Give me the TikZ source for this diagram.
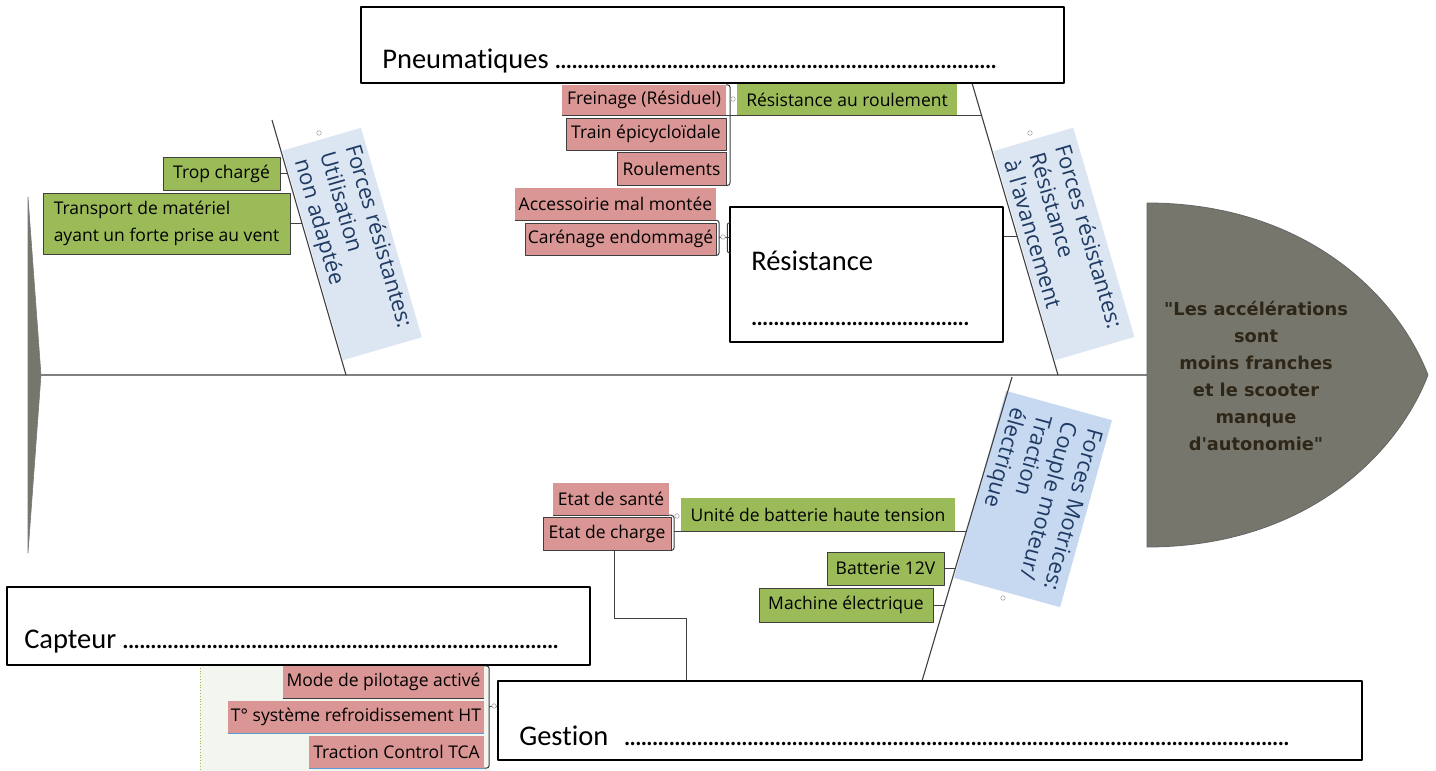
\documentclass[tikz,border=0pt]{standalone}
\usepackage{fontspec}
\setmainfont{Open Sans}[Ligatures=TeXOff]
\newfontfamily\boxfont{Carlito}[Ligatures={TeXOff,NoCommon}]
\newfontfamily\headfont{DejaVu Sans}[Ligatures=TeXOff]
\usetikzlibrary{calc}
\definecolor{leaf}{HTML}{9BBB59}
\definecolor{rose}{HTML}{D99694}
\definecolor{skyA}{HTML}{DCE6F2}
\definecolor{skyB}{HTML}{C6D9F1}
\definecolor{navy}{HTML}{1F3B63}
\definecolor{stone}{HTML}{76766D}
\definecolor{headink}{HTML}{2E2616}
\definecolor{twiggray}{HTML}{3F3F3F}
\definecolor{spinegray}{HTML}{808080}
\definecolor{paleleaf}{HTML}{F3F6EE}
\definecolor{linkblue}{HTML}{5B9BD5}
\newcommand\dotrun[1]{\hbox to #1{\leaders\hbox to 5.6pt{\hss.\hss}\hfill}}
\tikzset{
  fishbone/.style={
    x=1pt, y=-1pt,
    font=\fontsize{17.5}{27}\selectfont,
    line join=round
  },
  spine/.style={draw=spinegray, line width=2pt},
  bone/.style={draw=twiggray, line width=1.1pt},
  twig/.style={draw=twiggray, line width=1pt},
  leafbox/.style={
    fill=leaf,
    draw=twiggray,
    line width=1pt,
    inner sep=0pt,
    align=left
  },
  leafbare/.style={fill=leaf, inner sep=0pt},
  rosebox/.style={fill=rose, inner sep=0pt},
  roseframe/.style={rosebox, draw=twiggray, line width=1pt},
  tagbox/.style={
    inner sep=0pt,
    align=left,
    text=navy,
    font=\fontsize{22}{26.5}\selectfont
  },
  blankbox/.style={draw=black, line width=1.8pt, fill=white, inner sep=0pt},
  bigtext/.style={font=\boxfont\fontsize{28.5}{34}\selectfont, inner sep=0pt, anchor=base west},
  knob/.style={circle, draw=gray!70, fill=white, line width=.6pt, inner sep=0pt, minimum size=4.5pt},
  blueline/.style={draw=linkblue, line width=1.4pt}
}
\begin{document}
\begin{tikzpicture}[fishbone]
\fill[white] (0,0) rectangle (1436,771);
\useasboundingbox (0,0) rectangle (1436,771);

% zone capteurs
\fill[paleleaf] (200,665) rectangle (490,771);
\draw[leaf, dotted, line width=.8pt] (200,665) -- (200,771);

% arete centrale et queue
\coordinate (tailtip) at (41,375);
\coordinate (headback) at (1147,375);
\draw[spine] (tailtip) -- (headback);
\filldraw[fill=stone, draw=twiggray!70, line width=.6pt] (28,197) -- (tailtip) -- (28,553) -- cycle;

% etiquettes des aretes
\node[tagbox, fill=skyA, rotate=-73.8, minimum width=218pt, minimum height=82pt] (tagA) at (352,244) {Forces résistantes:\\Utilisation\\non adaptée};
\node[tagbox, fill=skyA, rotate=-73.7, minimum width=218pt, minimum height=83pt] (tagB) at (1064,244) {Forces résistantes:\\Résistance\\à l'avancement};
\node[tagbox, fill=skyB, rotate=-105.5, minimum width=194pt, minimum height=110pt] (tagC) at (1033,499) {Forces Motrices:\\Couple moteur/\\Traction\\électrique};

% aretes
\coordinate (b1s) at (346,375);
\coordinate (b1e) at (272,120);
\coordinate (b2s) at (1058,375);
\coordinate (b2e) at (972,83);
\coordinate (b3s) at (1012,377);
\coordinate (b3e) at (922,681);
\draw[bone] (b1s) -- (b1e);
\draw[bone] (b2s) -- (b2e);
\draw[bone] (b3s) -- (b3e);
\coordinate (b1a) at ($(b1s)!0.790!(b1e)$);
\coordinate (b1b) at ($(b1s)!0.594!(b1e)$);
\coordinate (b2a) at ($(b2s)!0.890!(b2e)$);
\coordinate (b2b) at ($(b2s)!0.473!(b2e)$);
\coordinate (b3a) at ($(b3s)!0.507!(b3e)$);
\coordinate (b3b) at ($(b3s)!0.630!(b3e)$);
\coordinate (b3c) at ($(b3s)!0.750!(b3e)$);

% utilisation
\node[leafbox, minimum width=117pt, minimum height=33pt] (trop) at (221.5,173.5) {Trop chargé};
\node[leafbox, minimum width=247pt, minimum height=61pt] (transp) at (166.5,223.5) {Transport de matériel\\ayant un forte prise au vent};
\draw[twig] (trop.east) -- (trop.east -| b1a);
\draw[twig] (transp.east) -- (transp.east -| b1b);

% resistance a l'avancement
\node[leafbare, minimum width=220pt, minimum height=31pt] (roul) at (847,99.5) {Résistance au roulement};
\node[rosebox, minimum width=164pt, minimum height=30pt] (fre) at (644,100) {Freinage (Résiduel)};
\node[roseframe, minimum width=160pt, minimum height=32pt] (train) at (646,134) {Train épicycloïdale};
\node[roseframe, minimum width=109pt, minimum height=33pt] (rlt) at (671.5,168.5) {Roulements};
\node[rosebox, minimum width=201pt, minimum height=32pt] (acc) at (615.5,204) {Accessoirie mal montée};
\node[roseframe, minimum width=191pt, minimum height=32pt] (car) at (620.5,239) {Carénage endommagé};
\draw[twig] (fre.south west) -- (fre.south west -| b2a);
\draw[twig, rounded corners=3pt] (fre.north east) -- ++(4,0) |- (rlt.south east);
\draw[twig] (acc.south west) -- (acc.south east);
\draw[twig, rounded corners=3pt] (acc.south east) -- ++(3,0) |- (car.south east);

\node[blankbox, minimum width=273pt, minimum height=135pt] (res) at (866.5,274.5) {};
\node[bigtext] (restitle) at ([xshift=22pt,yshift=72pt]res.south west) {Résistance};
\node[bigtext] (resdots) at ([xshift=22pt,yshift=17pt]res.south west) {\dotrun{222pt}};
\path (acc.south east) -- (car.south east) coordinate[pos=.5] (accmid);
\draw[twig] ([xshift=3pt]accmid) -- (accmid -| res.west);
\draw[twig, rounded corners=2pt] ([xshift=14pt,yshift=15pt]accmid) -- ([xshift=11pt,yshift=15pt]accmid) -- ([xshift=11pt,yshift=-15pt]accmid) -- ([xshift=14pt,yshift=-15pt]accmid);
\draw[twig] (b2b -| res.east) -- (b2b);

% couple moteur
\node[leafbare, minimum width=274pt, minimum height=33pt] (unite) at (818,514.5) {Unité de batterie haute tension};
\node[rosebox, minimum width=116pt, minimum height=32pt] (sante) at (611,499) {Etat de santé};
\node[roseframe, minimum width=128pt, minimum height=33pt] (charge) at (607,533.5) {Etat de charge};
\node[leafbox, minimum width=117pt, minimum height=33pt] (bat) at (885.5,568.5) {Batterie 12V};
\node[leafbox, minimum width=174pt, minimum height=34pt] (mach) at (846,605) {Machine électrique};
\draw[twig] (sante.south west) -- (sante.south east);
\draw[twig, rounded corners=3pt] (sante.south east) -- ++(5,0) |- (charge.south east);
\draw[twig] ([xshift=-7pt]unite.south west) -- (unite.south west -| b3a);
\draw[twig] (bat.east) -- (bat.east -| b3b);
\draw[twig] (mach.east) -- (mach.east -| b3c);
\coordinate (elbow) at (686,618);
\draw[twig] ([xshift=7pt]charge.south) |- (elbow) -- (elbow |- 0,681);

% capteurs
\node[rosebox, minimum width=201pt, minimum height=32pt] (mode) at (383.5,682) {Mode de pilotage activé};
\node[rosebox, minimum width=256pt, minimum height=32pt] (tsys) at (356,717) {T° système refroidissement HT};
\node[rosebox, minimum width=175pt, minimum height=32pt] (tca) at (396.5,752) {Traction Control TCA};
\draw[twig] (mode.south west) -- (mode.south east);
\draw[blueline] (tsys.south west) -- (tsys.south east);
\draw[blueline] (tca.south west) -- (tca.south east);
\draw[twig, rounded corners=3pt] (mode.north east) -- ++(5,0) |- (tca.south east);
\coordinate (gesj) at (489,706);

% tete
\filldraw[fill=stone, draw=twiggray!80, line width=.8pt] (1147,203) .. controls (1300,203) and (1395,290) .. (1428,375) .. controls (1395,460) and (1300,547) .. (1147,547) -- cycle;
\node[font=\headfont\bfseries\fontsize{17.8}{27}\selectfont, text=headink, align=center] (head) at (1256,376) {"Les accélérations\\sont\\moins franches\\et le scooter\\manque\\d'autonomie"};

% cadres
\node[blankbox, minimum width=703pt, minimum height=76pt] (pneu) at (712.5,45) {};
\node[bigtext] (pneutxt) at ([xshift=22pt,yshift=15pt]pneu.south west) {Pneumatiques \dotrun{443pt}};
\node[blankbox, minimum width=583pt, minimum height=78pt] (capt) at (298.5,626) {};
\node[bigtext] (capttxt) at ([xshift=18pt,yshift=17pt]capt.south west) {Capteur \dotrun{440pt}};
\node[blankbox, minimum width=864pt, minimum height=79pt] (ges) at (930,720.5) {};
\node[bigtext] (gestxt) at ([xshift=22pt,yshift=15pt]ges.south west) {Gestion\hskip 16pt\dotrun{668pt}};
\draw[twig] (gesj) -- (gesj -| ges.west);

% petits cercles
\node[knob] (k1) at (319,133) {};
\node[knob] (k2) at (733,99) {};
\node[knob] (k3) at (1030,133) {};
\node[knob] (k4) at (723,237) {};
\node[knob] (k5) at (677,516) {};
\node[knob] (k6) at (1003,598) {};
\node[knob] (k7) at (494,706) {};
\end{tikzpicture}
\end{document}
